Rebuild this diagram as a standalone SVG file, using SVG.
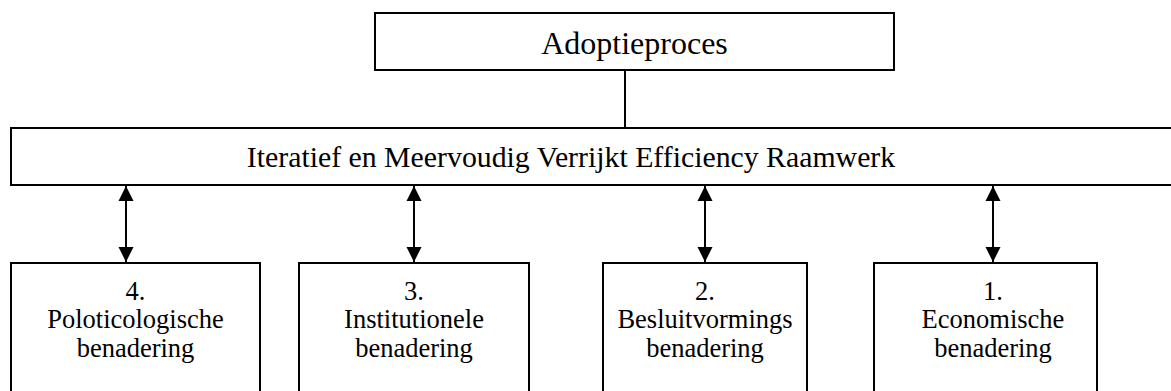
<svg xmlns="http://www.w3.org/2000/svg" width="1171" height="391" viewBox="0 0 1171 391">
<style>
.box{fill:#fff;stroke:#000;stroke-width:2}
.t{font-family:"Liberation Serif","Times New Roman",serif;fill:#000;text-anchor:middle}
.big{font-size:32px}
.mid{font-size:29.8px}
.sm{font-size:26.5px}
.conn{stroke:#000;stroke-width:2;fill:none}
</style>
<defs>
<marker id="ah2" viewBox="0 0 16 16" refX="15" refY="8" markerWidth="16" markerHeight="16" markerUnits="userSpaceOnUse" orient="auto-start-reverse">
<path d="M0,0.5 L15,8 L0,15.5 z" fill="#000"/>
</marker>
</defs>
<g id="connectors">
<line class="conn" x1="625" y1="70" x2="625" y2="128"/>
<line class="conn" x1="126" y1="186" x2="126" y2="262" marker-start="url(#ah2)" marker-end="url(#ah2)"/>
<line class="conn" x1="414" y1="186" x2="414" y2="262" marker-start="url(#ah2)" marker-end="url(#ah2)"/>
<line class="conn" x1="705" y1="186" x2="705" y2="262" marker-start="url(#ah2)" marker-end="url(#ah2)"/>
<line class="conn" x1="993" y1="186" x2="993" y2="262" marker-start="url(#ah2)" marker-end="url(#ah2)"/>
</g>
<g id="adoptieproces">
<rect class="box" x="375" y="13" width="519" height="57"/>
<text class="t big" x="634.5" y="54">Adoptieproces</text>
</g>
<g id="raamwerk">
<rect class="box" x="11" y="128" width="1170" height="57"/>
<text class="t mid" x="571" y="167">Iteratief en Meervoudig Verrijkt Efficiency Raamwerk</text>
</g>
<g id="node4">
<rect class="box" x="11" y="263" width="249" height="140"/>
<text class="t sm" x="135.5" y="300">4.</text>
<text class="t sm" x="135.5" y="328">Poloticologische</text>
<text class="t sm" x="135.5" y="357">benadering</text>
</g>
<g id="node3">
<rect class="box" x="299" y="263" width="230" height="140"/>
<text class="t sm" x="414" y="300">3.</text>
<text class="t sm" x="414" y="328">Institutionele</text>
<text class="t sm" x="414" y="357">benadering</text>
</g>
<g id="node2">
<rect class="box" x="603" y="263" width="204" height="140"/>
<text class="t sm" x="705" y="300">2.</text>
<text class="t sm" x="705" y="328">Besluitvormings</text>
<text class="t sm" x="705" y="357">benadering</text>
</g>
<g id="node1">
<rect class="box" x="874" y="263" width="223" height="140"/>
<text class="t sm" x="993" y="300">1.</text>
<text class="t sm" x="993" y="328">Economische</text>
<text class="t sm" x="993" y="357">benadering</text>
</g>
</svg>
